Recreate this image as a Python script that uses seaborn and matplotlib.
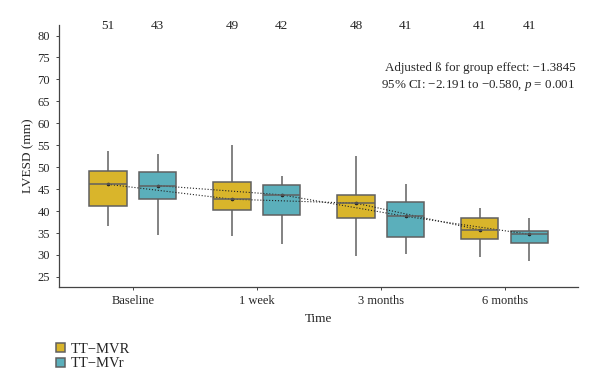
import pandas as pd
import numpy as np
import matplotlib
matplotlib.use("Agg")
import matplotlib.pyplot as plt
import seaborn as sns

# values (mm)
times = ["Baseline", "1 week", "3 months", "6 months"]
groups = ["TT\u2212MVR", "TT\u2212MVr"]

# lower whisker, Q1, median, Q3, upper whisker per time point
mvR_low = [36.6, 34.3, 29.8, 29.6]
mvR_q1 = [41.1, 40.3, 38.4, 33.6]
mvR_med = [46.1, 42.7, 41.8, 35.7]
mvR_q3 = [49.2, 46.7, 43.6, 38.4]
mvR_high = [53.8, 55.0, 52.5, 40.6]
mvR_mean = [46.1, 42.7, 41.8, 35.7]

mvr_low = [34.5, 32.6, 30.3, 28.6]
mvr_q1 = [42.7, 39.2, 34.2, 32.8]
mvr_med = [45.8, 43.7, 38.8, 34.7]
mvr_q3 = [48.8, 46.0, 42.1, 35.5]
mvr_high = [53.0, 48.1, 46.1, 38.4]
mvr_mean = [45.8, 43.7, 38.8, 34.7]

counts_mvR = [51, 49, 48, 41]
counts_mvr = [43, 42, 41, 41]

# %%
rows = []
for i, t in enumerate(times):
    for g, stats in [(groups[0], [mvR_low, mvR_q1, mvR_med, mvR_q3, mvR_high]),
                     (groups[1], [mvr_low, mvr_q1, mvr_med, mvr_q3, mvr_high])]:
        for s in stats:
            rows.append({"time": t, "group": g, "lvesd": s[i]})
df = pd.DataFrame(rows)

means = pd.DataFrame({
    "time": times * 2,
    "group": [groups[0]] * 4 + [groups[1]] * 4,
    "mean": mvR_mean + mvr_mean,
})

# %%
sns.set_theme(style="ticks")
plt.rcParams["font.family"] = ["Liberation Serif", "DejaVu Serif"]
plt.rcParams["mathtext.fontset"] = "custom"
plt.rcParams["mathtext.it"] = "Liberation Serif:italic"
plt.rcParams["mathtext.rm"] = "Liberation Serif"

fig = plt.figure(figsize=(6, 3.88), dpi=100)
ax = fig.add_axes([0.0975, 0.2603, 0.8655, 0.6753])

pal = ["#D9B52B", "#5BAFBB"]
sns.boxplot(data=df, x="time", y="lvesd", hue="group", order=times, hue_order=groups,
            palette=pal, whis=(0, 100), showfliers=False, showcaps=False, width=0.8, gap=0.25,
            linecolor="#606060", linewidth=1.1, saturation=1, ax=ax)

sns.pointplot(data=means, x="time", y="mean", hue="group", order=times, hue_order=groups,
              dodge=0.4, palette=["#222222", "#222222"], linestyles=":", markers="o",
              markersize=2, linewidth=0.8, errorbar=None, legend=False, ax=ax)

# n per group above the plot
for i in range(len(times)):
    ax.text(i - 0.2, 82.2, str(counts_mvR[i]), ha="center", va="center", fontsize=9.5, clip_on=False)
    ax.text(i + 0.2, 82.2, str(counts_mvr[i]), ha="center", va="center", fontsize=9.5, clip_on=False)

ax.text(0.995, 0.80, "Adjusted \u00df for group effect: \u22121.3845\n95% CI: \u22122.191 to \u22120.580, $p$ = 0.001",
        transform=ax.transAxes, ha="right", va="center", fontsize=9.4, linespacing=1.35)

ax.set_xlim(-0.60, 3.59)
ax.set_ylim(22.7, 82.4)
ax.set_yticks(np.arange(25, 81, 5))
ax.set_xlabel("Time", fontsize=9.5)
ax.set_ylabel("LVESD (mm)", fontsize=9.5)
ax.yaxis.set_label_coords(-0.046, 0.5)
ax.tick_params(labelsize=9, length=2.5, width=0.7, color="#444444")
sns.despine(ax=ax)
for sp in ["left", "bottom"]:
    ax.spines[sp].set_color("#444444")
    ax.spines[sp].set_linewidth(0.9)

handles, labels = ax.get_legend_handles_labels()
ax.legend_.remove()
fig.legend(handles[:2], labels[:2], loc="upper left", bbox_to_anchor=(0.082, 0.135),
           frameon=False, fontsize=10.5, handlelength=0.6, handleheight=0.6,
           handletextpad=0.35, labelspacing=0.1, borderpad=0)

fig.savefig("out.png", dpi=100)
